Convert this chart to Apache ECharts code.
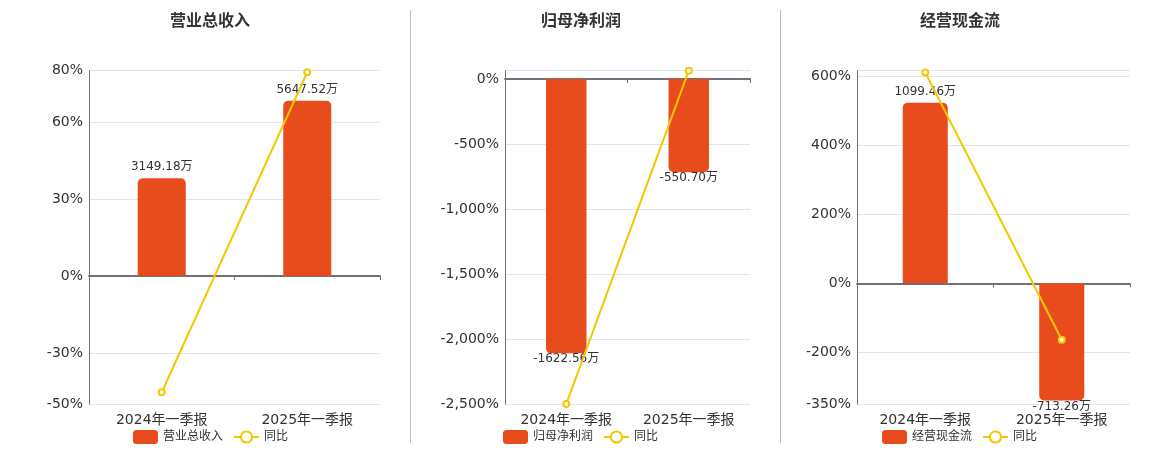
<!DOCTYPE html>
<html>
<head>
<meta charset="utf-8">
<title>业绩概览</title>
<script src="https://cdn.jsdelivr.net/npm/echarts@6.0.0/dist/echarts.min.js"></script>
<style>
  html, body { margin: 0; padding: 0; background: #fff; }
  #chart { width: 1160px; height: 450px; }
</style>
</head>
<body>
<div id="chart"></div>
<script>
const categories = ["2024年一季报", "2025年一季报"];

// 万元
const revenue = [3149.18, 5647.52];
const revenueYoY = [-45.3, 79.4];
const revenueTicks = [80, 60, 30, 0, -30, -50];

const netProfit = [-1622.56, -550.7];
const netProfitYoY = [-2498, 64.5];
const netProfitTicks = [0, -500, -1000, -1500, -2000, -2500];

const cashFlow = [1099.46, -713.26];
const cashFlowYoY = [610, -163.5];
const cashFlowTicks = [600, 400, 200, 0, -200, -350];

const BAR_COLOR = "#E84B1C";
const LINE_COLOR = "#F3C800";
const FONT = "'DejaVu Sans', 'Noto Sans CJK SC', sans-serif";

// one entry per panel: layout + axis ranges (bar axis is hidden, zero aligned with % axis)
const panels = [
  {
    title: "营业总收入", bars: revenue, yoy: revenueYoY, ticks: revenueTicks,
    lineMin: -50, lineMax: 80, barMax: 6615,
    center: 210, legendLeft: 133, grid: { left: 89, right: 780 }
  },
  {
    title: "归母净利润", bars: netProfit, yoy: netProfitYoY, ticks: netProfitTicks,
    lineMin: -2500, lineMax: 64.5, barMin: -1924,
    center: 581, legendLeft: 503, grid: { left: 505, right: 410 }
  },
  {
    title: "经营现金流", bars: cashFlow, yoy: cashFlowYoY, ticks: cashFlowTicks,
    lineMin: -350, lineMax: 615, barMax: 1295,
    center: 960, legendLeft: 882, grid: { left: 857, right: 30 }
  }
];

const fmtPct = v => `${Number(v).toLocaleString("en-US")}%`;

function buildOption() {
  const option = {
    animation: false,
    textStyle: { fontFamily: FONT },
    title: [],
    legend: [],
    grid: [],
    xAxis: [],
    yAxis: [],
    series: [],
    graphic: [410.5, 780.5].map(x => ({
      type: "line",
      shape: { x1: x, y1: 10, x2: x, y2: 443 },
      style: { stroke: "#BBBBBB", lineWidth: 1 },
      silent: true
    }))
  };

  panels.forEach((p, i) => {
    let barMin = p.barMin;
    let barMax = p.barMax;
    if (barMax == null) barMax = barMin * p.lineMax / p.lineMin;
    if (barMin == null) barMin = barMax * p.lineMin / p.lineMax;

    const gridLines = p.ticks.indexOf(p.lineMax) < 0 ? [p.lineMax].concat(p.ticks) : p.ticks;

    option.title.push({
      text: p.title,
      left: p.center,
      top: 14,
      padding: 0,
      textAlign: "center",
      textStyle: { fontSize: 16, fontWeight: "bold", color: "#333", fontFamily: FONT }
    });

    option.legend.push({
      left: p.legendLeft,
      top: 430,
      padding: 0,
      itemWidth: 25,
      itemHeight: 14,
      itemGap: 10,
      itemTextGap: 6,
      textStyle: { fontSize: 12, color: "#333", fontFamily: FONT },
      data: [
        { name: p.title, icon: "roundRect" },
        { name: `同比${i}` }
      ],
      formatter: name => name.replace(/\d$/, "")
    });

    option.grid.push({
      left: p.grid.left,
      right: p.grid.right,
      top: 70.7,
      bottom: 45.7
    });

    // bottom axis: labels only
    option.xAxis.push({
      type: "category",
      gridIndex: i,
      data: categories,
      position: "bottom",
      axisLine: { show: false, onZero: false },
      axisTick: { show: false },
      axisLabel: { fontSize: 14, color: "#333", margin: 9 }
    });
    // zero axis: line + ticks only
    option.xAxis.push({
      type: "category",
      gridIndex: i,
      data: categories,
      position: "bottom",
      axisLine: {
        onZero: true,
        onZeroAxisIndex: i * 2,
        lineStyle: { color: "#6E7079", width: 2 }
      },
      axisTick: { show: true, length: 4, lineStyle: { color: "#6E7079" } },
      axisLabel: { show: false },
      splitLine: { show: false }
    });

    option.yAxis.push({
      type: "value",
      gridIndex: i,
      min: p.lineMin,
      max: p.lineMax,
      position: "left",
      axisLine: { show: true, lineStyle: { color: "#6E7079" } },
      axisTick: { show: false, customValues: gridLines },
      axisLabel: {
        customValues: p.ticks,
        fontSize: 14,
        color: "#333",
        margin: 6,
        formatter: fmtPct
      },
      splitLine: { show: true, lineStyle: { color: "#E0E6F1" } }
    });
    option.yAxis.push({
      type: "value",
      gridIndex: i,
      min: barMin,
      max: barMax,
      show: false,
      splitLine: { show: false }
    });

    option.series.push({
      name: p.title,
      type: "bar",
      xAxisIndex: i * 2,
      yAxisIndex: i * 2 + 1,
      barWidth: "33%",
      itemStyle: { color: BAR_COLOR },
      data: p.bars.map(v => ({
        value: v,
        itemStyle: { borderRadius: v >= 0 ? [5, 5, 0, 0] : [0, 0, 5, 5] },
        label: {
          show: true,
          position: v >= 0 ? "top" : "bottom",
          distance: v >= 0 ? 5 : 0,
          fontSize: 12,
          color: "#333",
          formatter: `${v.toFixed(2)}万`
        }
      }))
    });
    option.series.push({
      name: `同比${i}`,
      type: "line",
      z: 3,
      xAxisIndex: i * 2,
      yAxisIndex: i * 2,
      symbol: "emptyCircle",
      symbolSize: 6,
      color: LINE_COLOR,
      lineStyle: { color: LINE_COLOR, width: 2 },
      itemStyle: { color: LINE_COLOR, borderColor: LINE_COLOR },
      data: p.yoy
    });
  });

  return option;
}

const chart = echarts.init(document.getElementById("chart"));
chart.setOption(buildOption());
</script>
</body>
</html>
